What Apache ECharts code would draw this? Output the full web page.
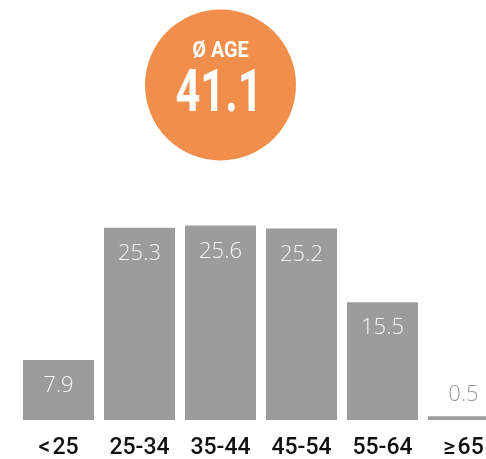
<!DOCTYPE html>
<html>
<head>
<meta charset="utf-8">
<script src="https://cdn.jsdelivr.net/npm/echarts@6/dist/echarts.min.js"></script>
<style>
  html, body { margin: 0; padding: 0; background: #fff; }
  #chart { width: 486px; height: 459px; }
</style>
</head>
<body>
<div id="chart"></div>
<script>
// age groups and share (%)
var categories = ['<\u200A25', '25-34', '35-44', '45-54', '55-64', '\u2265\u200A65'];
var shares = [7.9, 25.3, 25.6, 25.2, 15.5, 0.5];
var avgLabel = '\u00D8 AGE';
var avgAge = 41.1;

var barColor = '#9b9c9b';
var labelFont = 'Roboto, sans-serif';

var barData = shares.map(function (v) {
    var small = v < 3;
    return {
        value: v,
        label: {
            position: small ? 'top' : 'insideTop',
            distance: small ? 10 : 15,
            color: small ? '#999999' : '#f4f4f4'
        }
    };
});

var myChart = echarts.init(document.getElementById('chart'));
myChart.setOption({
    animation: false,
    grid: { left: 18, width: 486, top: 192, bottom: 39, outerBoundsMode: 'none' },
    xAxis: {
        type: 'category',
        data: categories,
        axisLine: { show: false },
        axisTick: { show: false },
        axisLabel: {
            interval: 0,
            color: '#111',
            fontFamily: labelFont,
            fontWeight: 500,
            fontSize: 23,
            margin: 17
        }
    },
    yAxis: {
        type: 'value',
        min: 0,
        max: 30,
        show: false,
        splitLine: { show: false }
    },
    series: [{
        type: 'bar',
        data: barData,
        barWidth: 71,
        itemStyle: { color: barColor },
        label: {
            show: true,
            fontFamily: '"Open Sans", Lato, sans-serif',
            fontWeight: 300,
            fontSize: 22,
            formatter: function (p) { return p.value.toFixed(1); }
        }
    }],
    graphic: [
        {
            type: 'circle',
            shape: { cx: 220.5, cy: 85, r: 75.5 },
            style: { fill: '#f28e4c' }
        },
        {
            type: 'text',
            x: 220.5,
            y: 51,
            scaleX: 0.9,
            style: {
                text: avgLabel,
                fill: '#fff',
                font: 'bold 22px ' + labelFont,
                align: 'center',
                verticalAlign: 'middle'
            }
        },
        {
            type: 'text',
            x: 219,
            y: 96,
            scaleX: 0.72,
            style: {
                text: avgAge.toFixed(1),
                fill: '#fff',
                font: 'bold 60px ' + labelFont,
                align: 'center',
                verticalAlign: 'middle'
            }
        }
    ]
});
</script>
</body>
</html>
